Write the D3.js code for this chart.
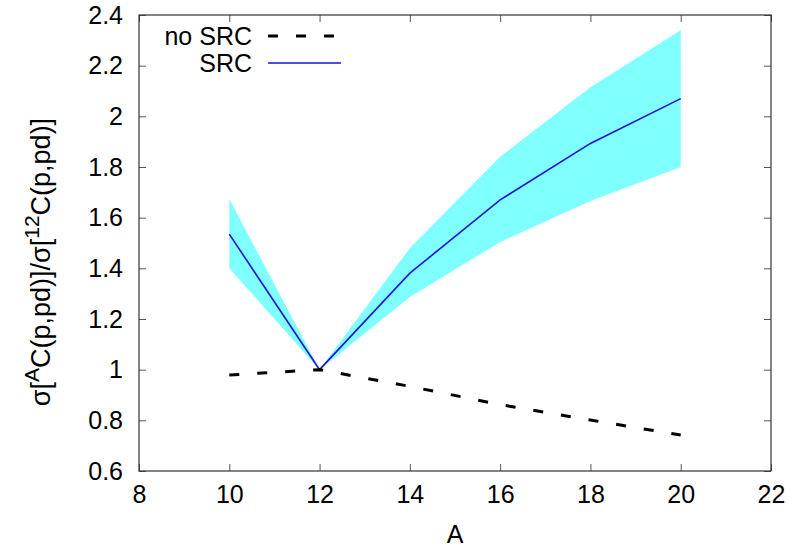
<!DOCTYPE html>
<html>
<head>
<meta charset="utf-8">
<script src="https://cdn.jsdelivr.net/npm/d3@7.9.0/dist/d3.min.js"></script>
<style>
  body { margin: 0; background: #fff; }
  text { font-family: "Liberation Sans", Arial, sans-serif; }
</style>
</head>
<body>
<svg id="chart"></svg>
<script>
const width = 788;
const height = 550;
const margin = { top: 15, right: 17, bottom: 79, left: 139 };

// data
const massA = [10, 12, 14, 16, 18, 20];
const noSrc = [0.979, 1.0, 0.934, 0.862, 0.801, 0.742];
const src = [1.535, 1.0, 1.381, 1.670, 1.893, 2.070];
const srcLow = [1.401, 1.0, 1.287, 1.504, 1.666, 1.800];
const srcHigh = [1.674, 1.0, 1.480, 1.840, 2.115, 2.340];
const xTicks = [8, 10, 12, 14, 16, 18, 20, 22];
const yTicks = [0.6, 0.8, 1, 1.2, 1.4, 1.6, 1.8, 2, 2.2, 2.4];

const svg = d3.select("#chart")
  .attr("width", width)
  .attr("height", height);

const x = d3.scaleLinear()
  .domain([8, 22])
  .range([margin.left, width - margin.right]);

const y = d3.scaleLinear()
  .domain([0.6, 2.4])
  .range([height - margin.bottom, margin.top]);

const rows = massA.map((a, i) => ({
  a, noSrc: noSrc[i], src: src[i], lo: srcLow[i], hi: srcHigh[i]
}));

// error band
svg.append("path")
  .datum(rows)
  .attr("fill", "#80ffff")
  .attr("d", d3.area()
    .x(d => x(d.a))
    .y0(d => y(d.lo))
    .y1(d => y(d.hi)));

svg.append("path")
  .datum(rows)
  .attr("fill", "none")
  .attr("stroke", "#1414d2")
  .attr("stroke-width", 1.6)
  .attr("d", d3.line().x(d => x(d.a)).y(d => y(d.src)));

svg.append("path")
  .datum(rows)
  .attr("fill", "none")
  .attr("stroke", "#000")
  .attr("stroke-width", 3)
  .attr("stroke-dasharray", "10,18")
  .attr("d", d3.line().x(d => x(d.a)).y(d => y(d.noSrc)));

// axes, ticks pointing in, mirrored on top/right
const tickLen = 7;
const axBottom = svg.append("g")
  .attr("transform", `translate(0,${y(0.6)})`)
  .call(d3.axisBottom(x).tickValues(xTicks).tickSize(-tickLen).tickPadding(14).tickFormat(d3.format("")));
const axTop = svg.append("g")
  .attr("transform", `translate(0,${y(2.4)})`)
  .call(d3.axisTop(x).tickValues(xTicks).tickSize(-tickLen).tickFormat(""));
const axLeft = svg.append("g")
  .attr("transform", `translate(${x(8)},0)`)
  .call(d3.axisLeft(y).tickValues(yTicks).tickSize(-tickLen).tickPadding(16).tickFormat(d3.format("")));
const axRight = svg.append("g")
  .attr("transform", `translate(${x(22)},0)`)
  .call(d3.axisRight(y).tickValues(yTicks).tickSize(-tickLen).tickFormat(""));

[axBottom, axTop, axLeft, axRight].forEach(g => {
  g.select(".domain").remove();
  g.selectAll(".tick line").attr("stroke", "#555");
  g.selectAll("text")
    .attr("font-family", "'Liberation Sans', Arial, sans-serif")
    .attr("font-size", 25)
    .attr("fill", "#000");
});

svg.append("rect")
  .attr("x", x(8))
  .attr("y", y(2.4))
  .attr("width", x(22) - x(8))
  .attr("height", y(0.6) - y(2.4))
  .attr("fill", "none")
  .attr("stroke", "#333")
  .attr("stroke-width", 1.2);

// axis titles
svg.append("text")
  .attr("x", (x(8) + x(22)) / 2)
  .attr("y", 543)
  .attr("text-anchor", "middle")
  .attr("font-size", 25)
  .text("A");

const yTitle = svg.append("text")
  .attr("transform", `translate(50,${(y(0.6) + y(2.4)) / 2 + 19}) rotate(-90)`)
  .attr("text-anchor", "middle")
  .attr("font-size", 27);
yTitle.append("tspan").text("σ[");
yTitle.append("tspan").attr("dy", -11).attr("font-size", 21).text("A");
yTitle.append("tspan").attr("dy", 11).text("C(p,pd)]/σ[");
yTitle.append("tspan").attr("dy", -11).attr("font-size", 21).text("12");
yTitle.append("tspan").attr("dy", 11).text("C(p,pd)]");

// legend
const legend = [
  { label: "no SRC", color: "#000", width: 3, dash: "10,18" },
  { label: "SRC", color: "#1414d2", width: 1.6, dash: null }
];
const lg = svg.append("g").selectAll("g")
  .data(legend)
  .join("g")
  .attr("transform", (d, i) => `translate(0,${36 + i * 27})`);
lg.append("text")
  .attr("x", 252)
  .attr("y", 9)
  .attr("text-anchor", "end")
  .attr("font-size", 25)
  .text(d => d.label);
lg.append("line")
  .attr("x1", 268)
  .attr("x2", 341)
  .attr("stroke", d => d.color)
  .attr("stroke-width", d => d.width)
  .attr("stroke-dasharray", d => d.dash);
</script>
</body>
</html>
